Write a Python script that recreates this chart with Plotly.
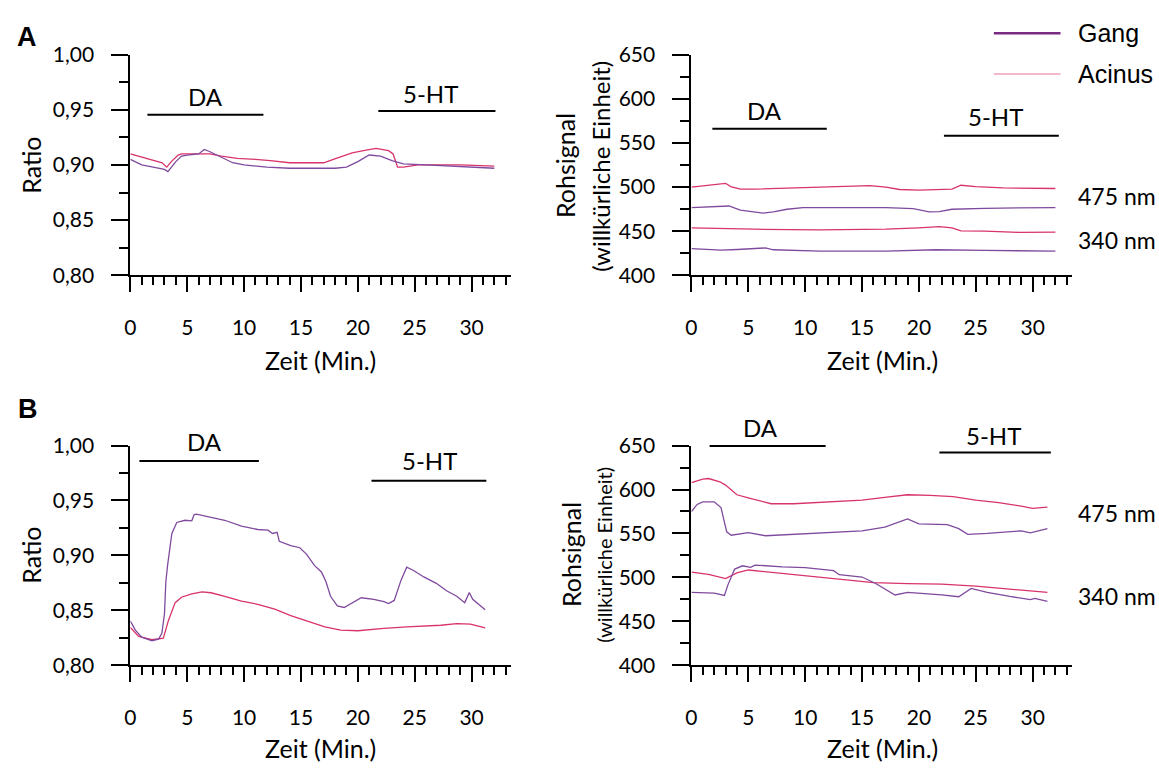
import plotly.graph_objects as go

# ---------------- DATA ----------------
# Panel A, ratio (Zeit in Min.)
A_ratio_gang_t = [0, 1, 2, 3, 3.3, 4, 4.5, 5, 6, 6.5, 7, 8, 9, 10, 12, 14, 16, 18, 19, 20, 21, 22, 23, 24, 26, 28, 30, 32]
A_ratio_gang = [0.905, 0.900, 0.898, 0.896, 0.894, 0.903, 0.908, 0.909, 0.910, 0.914, 0.912, 0.907, 0.902, 0.900,
                0.898, 0.897, 0.897, 0.897, 0.898, 0.903, 0.909, 0.908, 0.904, 0.901, 0.900, 0.899, 0.898, 0.897]
A_ratio_acinus_t = [0, 1, 2, 2.8, 3.2, 3.6, 4.2, 4.5, 5, 6, 7, 8, 9.4, 11, 12.3, 14, 15.2, 17, 18.1, 19.5, 20.5,
                    21.6, 22.7, 23.1, 23.5, 24, 25.3, 27, 29, 32]
A_ratio_acinus = [0.910, 0.907, 0.904, 0.902, 0.898, 0.903, 0.909, 0.910, 0.910, 0.910, 0.910, 0.908, 0.906, 0.905,
                  0.904, 0.902, 0.902, 0.902, 0.906, 0.911, 0.913, 0.915, 0.913, 0.910, 0.898, 0.898, 0.900, 0.900,
                  0.900, 0.899]

# Panel A, raw signal
A_acinus475_t = [0, 1.4, 2.6, 3.0, 3.45, 4.3, 5.5, 8.4, 11.3, 14.2, 15.7, 17.1, 18.3, 20, 22.9, 23.7, 25, 27.4, 32]
A_acinus475 = [499.8, 501.6, 503.1, 504.2, 500.5, 497.6, 497.6, 498.7, 499.8, 500.5, 501.6, 499.8, 497.2, 496.5,
               497.6, 502, 500.5, 499, 498.3]
A_gang475_t = [0, 2, 3.3, 4.3, 6.3, 7.2, 8.4, 9.8, 12.8, 17.1, 19.5, 20.9, 21.8, 22.9, 25.8, 32]
A_gang475 = [476.7, 477.8, 478.5, 473.7, 470.4, 471.9, 474.8, 476.7, 476.7, 476.7, 475.6, 471.9, 472.2, 474.8,
             475.9, 476.7]
A_acinus340_t = [0, 5.5, 11.3, 17.1, 20, 21.8, 22.9, 23.7, 25.8, 28.8, 32]
A_acinus340 = [453.7, 452.2, 451.5, 452.2, 453.7, 455.1, 453.7, 450.4, 450, 448.6, 448.9]
A_gang340_t = [0, 2.6, 4.05, 6.5, 7.2, 11.3, 17.1, 21.5, 25.8, 32]
A_gang340 = [430.3, 428.5, 429.2, 431, 428.9, 427.4, 427.4, 428.9, 428.1, 427.4]

# Panel B, ratio
B_ratio_gang_t = [0, 0.44, 1.0, 1.9, 2.48, 2.77, 3.0, 3.12, 3.27, 3.65, 4.08, 4.8, 5.4, 5.6, 5.8, 6.85, 8.3, 9.77,
                  11.2, 12.1, 12.5, 12.9, 13.1, 14.1, 14.9, 15.5, 16.2, 16.8, 17.2, 17.6, 18.2, 18.8, 19.7, 20.3,
                  21.4, 22.3, 22.7, 23.2, 23.8, 24.3, 24.9, 25.8, 26.9, 27.8, 28.7, 29.4, 29.8, 30.1, 31.2]
B_ratio_gang = [0.8403, 0.832, 0.8255, 0.8223, 0.8238, 0.829, 0.8467, 0.876, 0.8907, 0.920, 0.930, 0.932, 0.9315,
                0.937, 0.9375, 0.935, 0.932, 0.9266, 0.9236, 0.923, 0.920, 0.921, 0.9128, 0.909, 0.907, 0.901,
                0.8907, 0.8849, 0.876, 0.8628, 0.854, 0.8526, 0.8579, 0.8614, 0.860, 0.858, 0.8561, 0.859, 0.8775,
                0.8893, 0.8863, 0.8804, 0.8746, 0.8678, 0.8628, 0.857, 0.8663, 0.860, 0.8505]
B_ratio_acinus_t = [0, 0.73, 1.9, 2.9, 3.35, 3.94, 4.5, 5.4, 6.3, 7.1, 8.3, 9.77, 11.2, 12.7, 14.1, 15.6, 17.1, 18.5,
                    20, 22.3, 24.3, 27.3, 28.7, 29.9, 31.2]
B_ratio_acinus = [0.8344, 0.8262, 0.8232, 0.8247, 0.8408, 0.857, 0.8619, 0.8649, 0.8667, 0.866, 0.8628, 0.8584,
                  0.8555, 0.8511, 0.8452, 0.8403, 0.835, 0.832, 0.8314, 0.8335, 0.835, 0.8364, 0.8379, 0.8374,
                  0.834]

# Panel B, raw signal
B_acinus475_t = [0, 1, 1.5, 2.5, 3, 4, 5, 6, 7, 9, 11, 13, 15, 17, 19, 21, 23, 25, 27, 29, 30, 31.3]
B_acinus475 = [607.7, 611.7, 612.5, 608.8, 605, 594, 590.4, 586.7, 583.8, 583.8, 585, 586, 588, 591, 594, 593.4,
               592, 588, 585, 581, 578.6, 580]
B_gang475_t = [0, 0.5, 1, 2, 2.6, 2.9, 3.1, 3.5, 5, 6.5, 9, 12, 15, 17, 19, 20, 22.5, 23.5, 24.3, 26, 29, 29.8, 31.3]
B_gang475 = [575, 583, 586, 586, 579.4, 564.7, 551.8, 548, 551, 547.4, 549, 551, 553, 557.3, 566.5, 561, 560, 555.5,
             549, 550, 553, 550.7, 555.5]
B_acinus340_t = [0, 1.5, 3.0, 4, 5, 7, 10, 13, 16, 19, 22, 25, 28, 31.3]
B_acinus340 = [505.9, 503.3, 498.5, 505, 508.4, 505.9, 502.2, 498.5, 494, 493, 492.3, 490, 486.8, 483]
B_gang340_t = [0, 2, 2.9, 3.2, 3.8, 4.5, 5.2, 5.6, 8, 10, 12.5, 13, 15, 16.2, 17.9, 19, 22, 23.5, 24.6, 26, 28,
               29.8, 30.2, 31.3]
B_gang340 = [483, 482, 479.4, 491.2, 509.5, 513.2, 511.4, 514, 512, 511, 507.7, 503, 500.4, 493, 480, 483, 480, 478,
             487.5, 483, 478.3, 474.6, 476, 472.8]

# Treatment bars: (label, start, end, bar level, label x, label level) per panel
A_ratio_bars = [("DA", 1.5, 11.7, 0.9456, 6.65, 0.962), ("5-HT", 21.8, 32.1, 0.949, 26.4, 0.965)]
A_raw_bars = [("DA", 1.84, 11.9, 566, 6.4, 586.4), ("5-HT", 22.2, 32.3, 558, 26.7, 579.8)]
B_ratio_bars = [("DA", 0.8, 11.3, 0.986, 6.5, 1.0038), ("5-HT", 21.2, 31.3, 0.968, 26.3, 0.986)]
B_raw_bars = [("DA", 1.6, 11.8, 649.5, 6.1, 671), ("5-HT", 21.8, 31.6, 642, 26.6, 661.3)]

# Wavelength labels (level on raw axis)
A_nm_labels = [("475 nm", 490), ("340 nm", 439.5)]
B_nm_labels = [("475 nm", 573), ("340 nm", 479)]

X_RANGE = [0, 33.5]
RATIO_RANGE = [0.80, 1.00]
RAW_RANGE = [400, 650]
RATIO_TICKS = [0.80, 0.85, 0.90, 0.95, 1.00]
RATIO_MINOR = [0.825, 0.875, 0.925, 0.975]
RAW_TICKS = [400, 450, 500, 550, 600, 650]
RAW_MINOR = [425, 475, 525, 575, 625]

GANG_COLOR = "#7f4a9e"
ACINUS_COLOR = "#d8336a"
FONT = "Lato"

W, H = 1159, 773


def px(x):
    return x / W


def py(y):
    return 1 - y / H


fig = go.Figure()


def add_line(xa, ya, t, v, color, name):
    fig.add_trace(go.Scatter(x=t, y=v, mode="lines", name=name, showlegend=False,
                             line=dict(color=color, width=1.3), xaxis=xa, yaxis=ya, hoverinfo="skip"))


add_line("x", "y", A_ratio_acinus_t, A_ratio_acinus, ACINUS_COLOR, "Acinus")
add_line("x", "y", A_ratio_gang_t, A_ratio_gang, GANG_COLOR, "Gang")
add_line("x2", "y2", A_acinus475_t, A_acinus475, ACINUS_COLOR, "Acinus 475 nm")
add_line("x2", "y2", A_gang475_t, A_gang475, GANG_COLOR, "Gang 475 nm")
add_line("x2", "y2", A_acinus340_t, A_acinus340, ACINUS_COLOR, "Acinus 340 nm")
add_line("x2", "y2", A_gang340_t, A_gang340, GANG_COLOR, "Gang 340 nm")
add_line("x3", "y3", B_ratio_acinus_t, B_ratio_acinus, ACINUS_COLOR, "Acinus")
add_line("x3", "y3", B_ratio_gang_t, B_ratio_gang, GANG_COLOR, "Gang")
add_line("x4", "y4", B_acinus475_t, B_acinus475, ACINUS_COLOR, "Acinus 475 nm")
add_line("x4", "y4", B_gang475_t, B_gang475, GANG_COLOR, "Gang 475 nm")
add_line("x4", "y4", B_acinus340_t, B_acinus340, ACINUS_COLOR, "Acinus 340 nm")
add_line("x4", "y4", B_gang340_t, B_gang340, GANG_COLOR, "Gang 340 nm")

LEFT = [px(125), px(508)]
RIGHT = [px(689), px(1072)]
TOP = [py(270), py(42)]
BOTTOM = [py(673), py(446)]

tickfont = dict(family=FONT, size=21, color="black")


def xaxis(domain, anchor):
    return dict(domain=domain, anchor=anchor, range=X_RANGE, tick0=0, dtick=5, ticks="outside",
                ticklen=15, tickwidth=2, tickcolor="black", showline=True, linewidth=2, linecolor="black",
                showgrid=False, zeroline=False, tickfont=tickfont, ticklabelstandoff=18, fixedrange=True,
                minor=dict(ticks="outside", tick0=0, dtick=1, ticklen=8, tickwidth=2, tickcolor="black",
                           showgrid=False))


def yaxis(domain, anchor, rng, tv, mv, fmt):
    return dict(domain=domain, anchor=anchor, range=rng, tickmode="array", tickvals=tv, tickformat=fmt,
                ticks="outside", ticklen=17, tickwidth=2, tickcolor="black", showline=True, linewidth=2,
                linecolor="black", showgrid=False, zeroline=False, tickfont=tickfont, ticklabelstandoff=13,
                fixedrange=True,
                minor=dict(ticks="outside", tickmode="array", tickvals=mv, ticklen=9, tickwidth=2,
                           tickcolor="black", showgrid=False))


shapes = []
annotations = []


def bars(xref, yref, rng, items):
    for label, a, b, lvl, lx, ly in items:
        yd = (lvl - rng[0]) / (rng[1] - rng[0])
        shapes.append(dict(type="line", xref=xref, yref=yref + " domain", x0=a, x1=b, y0=yd, y1=yd,
                           line=dict(color="black", width=2)))
        ld = (ly - rng[0]) / (rng[1] - rng[0])
        annotations.append(dict(text=label, xref=xref, yref=yref + " domain", x=lx, y=ld, showarrow=False,
                                xanchor="center", yanchor="middle", font=dict(family=FONT, size=24,
                                                                                color="black")))


bars("x", "y", RATIO_RANGE, A_ratio_bars)
bars("x2", "y2", RAW_RANGE, A_raw_bars)
bars("x3", "y3", RATIO_RANGE, B_ratio_bars)
bars("x4", "y4", RAW_RANGE, B_raw_bars)


def nm_labels(xref, yref, rng, items):
    for label, lvl in items:
        yd = (lvl - rng[0]) / (rng[1] - rng[0])
        annotations.append(dict(text=label, xref=xref + " domain", yref=yref + " domain", x=1.01, y=yd,
                                showarrow=False, xanchor="left", yanchor="middle",
                                font=dict(family=FONT, size=23, color="black")))


nm_labels("x2", "y2", RAW_RANGE, A_nm_labels)
nm_labels("x4", "y4", RAW_RANGE, B_nm_labels)


def text(t, x, y, size=25, angle=0, bold=False, family=FONT):
    annotations.append(dict(text="<b>%s</b>" % t if bold else t, xref="paper", yref="paper", x=px(x), y=py(y),
                            showarrow=False, xanchor="center", yanchor="middle", textangle=angle,
                            font=dict(family=family, size=size, color="black")))


# panel letters
text("A", 21, 24, size=27, bold=True, family="Liberation Sans")
text("B", 22, 408, size=27, bold=True, family="Liberation Sans")
# axis titles
text("Ratio", 25, 156, angle=-90)
text("Ratio", 25, 559, angle=-90)
text("Rohsignal", 562, 157, angle=-90)
text("(willkürliche Einheit)", 598, 157, size=24, angle=-90)
text("Rohsignal", 568, 559, angle=-90)
text("(willkürliche Einheit)", 601, 559, size=20, angle=-90)
text("Zeit (Min.)", 316, 358)
text("Zeit (Min.)", 881, 358)
text("Zeit (Min.)", 316, 759)
text("Zeit (Min.)", 881, 759)

# legend
LEGEND = [("Gang", "#7a2a80", 2.5, 20), ("Acinus", "#e8729e", 1.2, 62)]
for name, col, wdt, yy in LEGEND:
    shapes.append(dict(type="line", xref="paper", yref="paper", x0=px(993), x1=px(1060), y0=py(yy), y1=py(yy),
                       line=dict(color=col, width=wdt)))
    annotations.append(dict(text=name, xref="paper", yref="paper", x=px(1076), y=py(yy), showarrow=False,
                            xanchor="left", yanchor="middle",
                            font=dict(family="Liberation Sans", size=25, color="black")))

fig.update_layout(
    width=W, height=H, margin=dict(l=0, r=0, t=0, b=0),
    paper_bgcolor="white", plot_bgcolor="white", separators=",.",
    showlegend=False,
    xaxis=xaxis(LEFT, "y"), yaxis=yaxis(TOP, "x", RATIO_RANGE, RATIO_TICKS, RATIO_MINOR, ".2f"),
    xaxis2=xaxis(RIGHT, "y2"), yaxis2=yaxis(TOP, "x2", RAW_RANGE, RAW_TICKS, RAW_MINOR, "d"),
    xaxis3=xaxis(LEFT, "y3"), yaxis3=yaxis(BOTTOM, "x3", RATIO_RANGE, RATIO_TICKS, RATIO_MINOR, ".2f"),
    xaxis4=xaxis(RIGHT, "y4"), yaxis4=yaxis(BOTTOM, "x4", RAW_RANGE, RAW_TICKS, RAW_MINOR, "d"),
    shapes=shapes, annotations=annotations,
    font=dict(family=FONT, color="black"),
)

fig.write_html("out.html")
